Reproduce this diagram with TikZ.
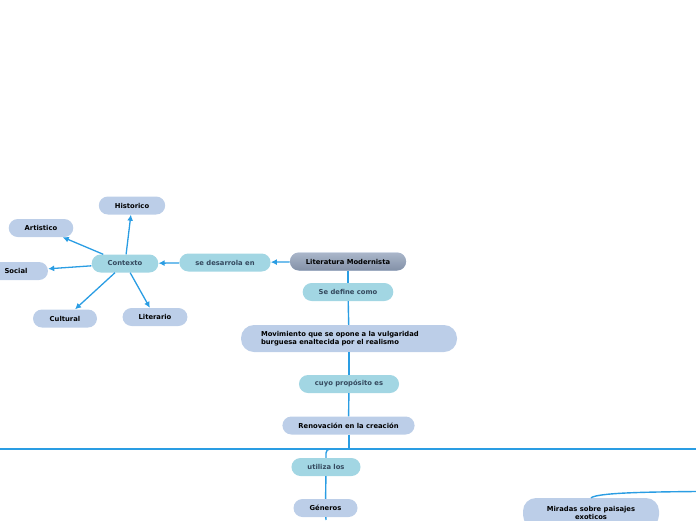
\documentclass[tikz,border=0pt]{standalone}
\usepackage{fontspec}
\setsansfont{DejaVu Sans}
\usetikzlibrary{arrows.meta, positioning}
\definecolor{linkblue}{HTML}{2A9DE3}
\definecolor{topicfill}{HTML}{BCCEE8}
\definecolor{linkfill}{HTML}{A2D6E3}
\definecolor{linktext}{HTML}{34495E}
\definecolor{maintop}{HTML}{AAB6CA}
\definecolor{mainbot}{HTML}{8391A7}

\begin{document}
\begin{tikzpicture}[x=1pt, y=-1pt,
topic/.style={rectangle, rounded corners=9pt, fill=topicfill, minimum height=18pt,
minimum width=64pt, inner xsep=16pt, inner ysep=2pt, text=black,
font=\sffamily\bfseries\fontsize{6.8}{8}\selectfont},
link/.style={topic, fill=linkfill, text=linktext},
arr/.style={-{Latex[length=6pt, width=6pt]}, linkblue, line width=1.3pt},
line/.style={linkblue, line width=1.4pt}
]
\useasboundingbox (0,0) rectangle (696,520);

\node[topic, top color=maintop, bottom color=mainbot] (lit) at (348,261.5) {Literatura Modernista};
\node[link] (desa) at (225,262.5) {se desarrola en};
\node[link] (ctx) at (125,263.5) {Contexto};
\node[topic] (hist) at (132,205.5) {Historico};
\node[topic] (art) at (41,228) {Artistico};
\node[topic] (soc) at (16,271) {Social};
\node[topic] (cult) at (65,318.5) {Cultural};
\node[topic] (liter) at (155,317) {Literario};

\node[link] (def) at (348,292) {Se define como};
\node[topic, minimum height=27pt, rounded corners=13pt, text width=176pt, inner xsep=20pt, align=left] (mov) at (349,338.5)
{Movimiento que se opone a la vulgaridad\\burguesa enaltecida por el realismo};
\node[link] (prop) at (349,384) {cuyo propósito es};
\node[topic] (renov) at (348.5,425.5) {Renovación en la creación};
\node[link] (usa) at (326,467) {utiliza los};
\node[topic] (gen) at (325.5,508) {Géneros};
\node[topic, minimum height=30pt, minimum width=136pt, rounded corners=13pt, align=center] (mir) at (591,513)
{Miradas sobre paisajes\\exoticos};

\coordinate (bus) at (349,449);
\coordinate (busW) at (0,449);
\coordinate (busE) at (696,449);
\coordinate (genS) at (326,520);
\coordinate (mirE) at (696,491.5);

\draw[arr] (lit) -- (desa);
\draw[arr] (desa) -- (ctx);
\draw[arr] (ctx) -- (hist);
\draw[arr] (ctx) -- (art);
\draw[arr] (ctx) -- (soc);
\draw[arr] (ctx) -- (cult);
\draw[arr] (ctx) -- (liter);

\draw[line] (lit) -- (def);
\draw[line] (def) -- (mov);
\draw[line] (mov) -- (prop);
\draw[line] (prop) -- (renov);
\draw[line] (renov.south -| bus) -- (bus);
\draw[line] (busW) -- (busE);
\draw[line, rounded corners=4pt] (bus) -| (usa);
\draw[line] (usa) -- (gen);
\draw[line] (gen) -- (genS);
\draw[line] (mir.north) .. controls (598,493) and (640,492) .. (mirE);
\end{tikzpicture}
\end{document}
